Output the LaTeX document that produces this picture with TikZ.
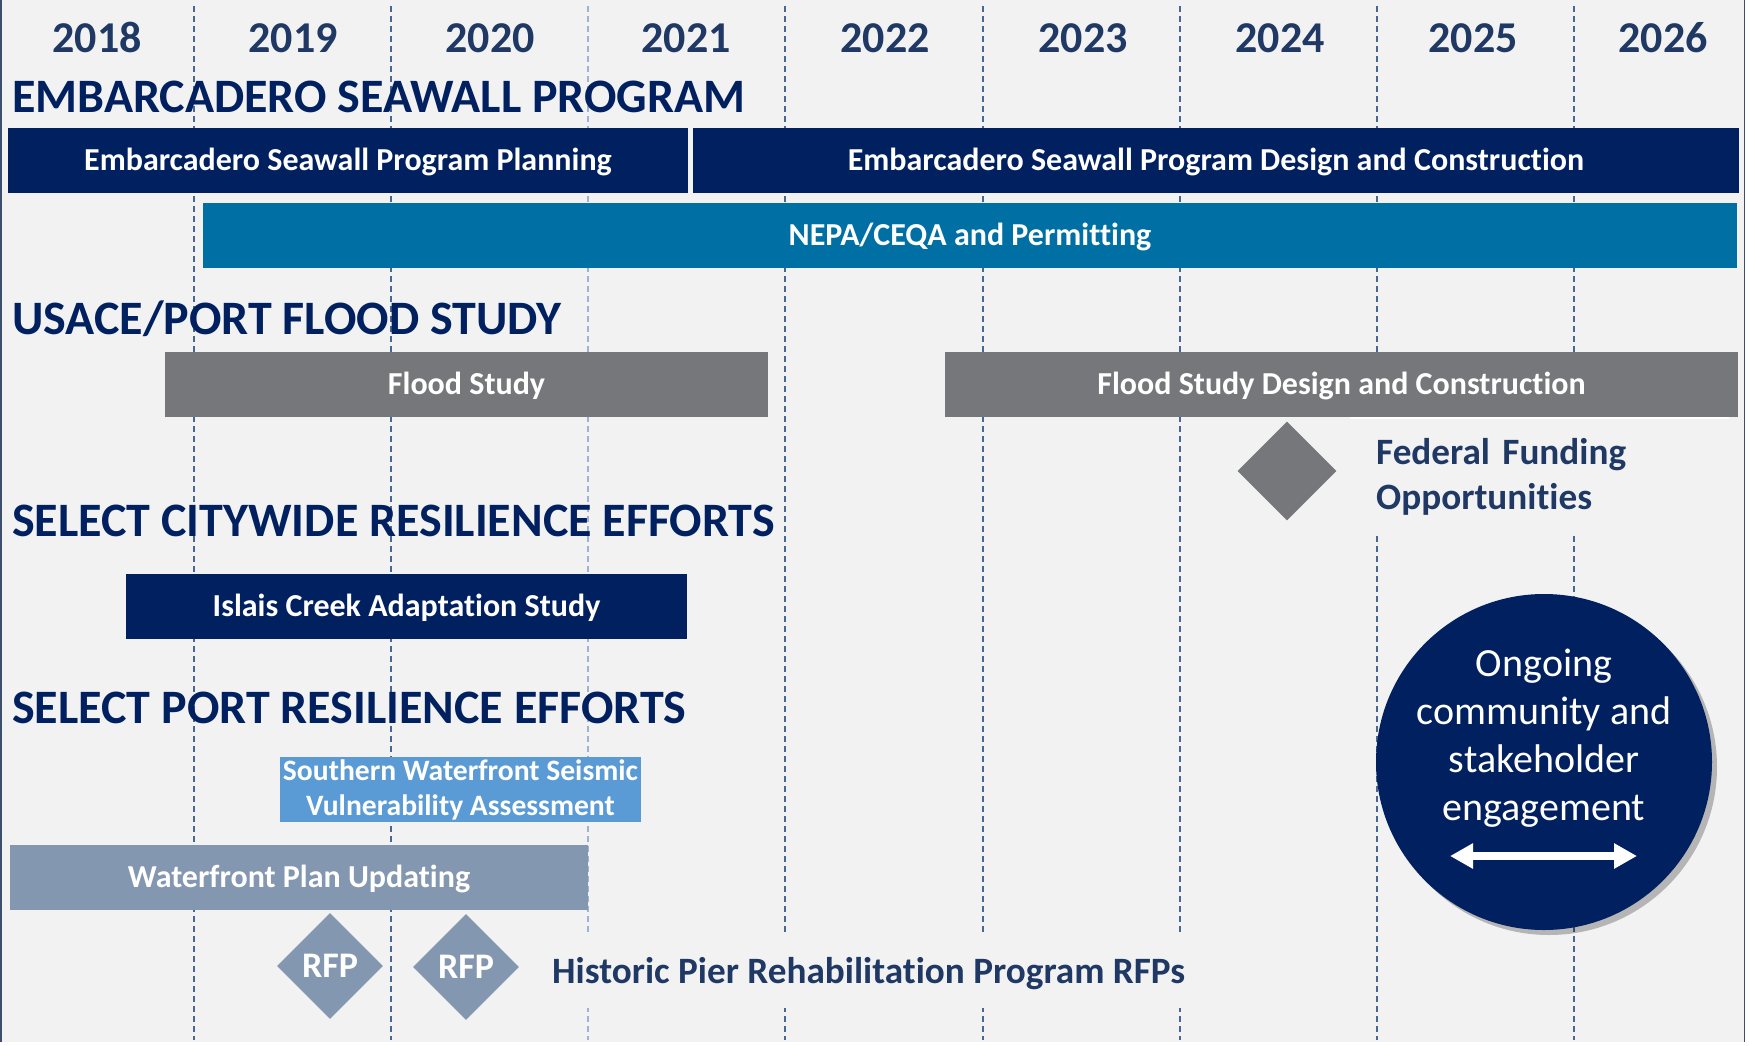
\documentclass[tikz,border=0pt]{standalone}
\usepackage{fontspec}
\setmainfont{Carlito}[Ligatures=NoCommon]
\usetikzlibrary{arrows.meta,shadows,shapes.geometric}
\definecolor{bg}{RGB}{242,242,242}
\definecolor{navy}{RGB}{0,32,96}
\definecolor{yearc}{RGB}{31,56,100}
\definecolor{nepa}{RGB}{0,112,164}
\definecolor{fgray}{RGB}{118,119,123}
\definecolor{sblue}{RGB}{91,155,213}
\definecolor{wgray}{RGB}{132,151,176}
\definecolor{gridc}{RGB}{72,104,145}
\definecolor{gridl}{RGB}{160,178,210}
\definecolor{framec}{RGB}{60,80,110}
\newcommand{\fyr}{\fontsize{44}{52}\selectfont\bfseries}
\newcommand{\fttl}{\fontsize{48}{56}\selectfont\bfseries}
\newcommand{\fbar}{\fontsize{32}{38}\selectfont\bfseries}
\newcommand{\fsml}{\fontsize{29.6}{35}\selectfont\bfseries}
\newcommand{\flbl}{\fontsize{37.2}{45}\selectfont\bfseries}
\newcommand{\frfp}{\fontsize{36}{40}\selectfont\bfseries}
\newcommand{\fcirc}{\fontsize{40}{48}\selectfont}
\begin{document}
\begin{tikzpicture}[x=1pt,y=-1pt,
  yearlbl/.style={anchor=base, inner sep=0pt, text=yearc, font=\fyr},
  sectitle/.style={anchor=base west, inner sep=0pt, text=navy, font=\fttl},
  barbase/.style={rectangle, inner sep=0pt, minimum height=65pt, text=white},
  bar/.style={barbase, font=\fbar, text height=26pt, text depth=6pt},
  gridline/.style={gridc, line width=1.3pt, dash pattern=on 6pt off 4pt},
  milestone/.style={diamond, aspect=1, inner sep=0pt, text=white, font=\frfp, text height=23pt, text depth=0pt},
  lbl/.style={inner ysep=0pt, text=yearc, font=\flbl, fill=bg}
]
\useasboundingbox (0,0) rectangle (1749,1045);
\fill[white] (0,0) rectangle (1749,1045);
\fill[bg] (0,0) rectangle (1745,1042);
\draw[framec, line width=1.5pt] (1,0) -- (1,1042);
\draw[framec, line width=1.2pt] (1744.5,0) -- (1744.5,1042);

% grid lines
\foreach \gx in {194,391,785,983,1180,1377,1574}{
  \draw[gridline] (\gx,6) -- (\gx,1040);
}
\draw[gridline, gridl] (588,6) -- (588,1040);

% years
\node[yearlbl] (y18) at (97,52) {2018};
\node[yearlbl] (y19) at (293,52) {2019};
\node[yearlbl] (y20) at (490,52) {2020};
\node[yearlbl] (y21) at (686,52) {2021};
\node[yearlbl] (y22) at (885,52) {2022};
\node[yearlbl] (y23) at (1083,52) {2023};
\node[yearlbl] (y24) at (1280,52) {2024};
\node[yearlbl] (y25) at (1473,52) {2025};
\node[yearlbl] (y26) at (1663,52) {2026};

% section titles
\node[sectitle] (t1) at (12,112) {EMBARCADERO SEAWALL PROGRAM};
\node[sectitle] (t2) at (12,334) {USACE/PORT FLOOD STUDY};
\node[sectitle] (t3) at (12,536) {SELECT CITYWIDE RESILIENCE EFFORTS};
\node[sectitle] (t4) at (12,723) {SELECT PORT RESILIENCE EFFORTS};

% bars
\node[bar, fill=navy, minimum width=680pt] (plan) at (348,160.5) {Embarcadero Seawall Program Planning};
\node[bar, fill=navy, minimum width=1046pt] (design) at (1216,160.5) {Embarcadero Seawall Program Design and Construction};
\node[bar, fill=nepa, minimum width=1534pt] (nepa) at (970,235.5) {NEPA/CEQA and Permitting};
\node[bar, fill=fgray, minimum width=603pt] (flood) at (466.5,384.5) {Flood Study};
\node[bar, fill=fgray, minimum width=793pt] (flooddc) at (1341.5,384.5) {Flood Study Design and Construction};
\node[bar, fill=navy, minimum width=561pt] (islais) at (406.5,606.5) {Islais Creek Adaptation Study};
\node[barbase, fill=sblue, minimum width=361pt, align=center, font=\fsml] (south) at (460.5,789.5) {Southern Waterfront Seismic\\Vulnerability Assessment};
\node[bar, fill=wgray, minimum width=578pt] (wplan) at (299,877.5) {Waterfront Plan Updating};

% federal funding
\node[milestone, fill=fgray, minimum width=99pt, minimum height=99pt] (fedm) at (1287,471) {};
\node[lbl, anchor=north west, inner xsep=26pt, text width=327pt, align=left, minimum height=117pt] (fed) at (1350,418) {Federal Funding\\Opportunities};
\draw[white, line width=1.5pt] (fed.north west) -- (fed.north east);

% RFP milestones
\node[milestone, fill=wgray, minimum width=106pt, minimum height=106pt] (rfp1) at (330,966) {RFP};
\node[milestone, fill=wgray, minimum width=106pt, minimum height=106pt] (rfp2) at (466,967) {RFP};
\node[lbl, anchor=west, inner xsep=12pt, minimum height=73pt, text height=30pt, text depth=7pt] (hist) at (540,971.5) {Historic Pier Rehabilitation Program RFPs};

% engagement circle
\node[circle, fill=navy, minimum size=336pt, inner sep=0pt,
  drop shadow={shadow xshift=5pt, shadow yshift=-5pt, opacity=0.25, fill=black}] (eng) at (1544,762) {};
\node[align=center, text=white, font=\fcirc, inner sep=0pt] (engtxt) at (1544,738) {Ongoing\\community and\\stakeholder\\engagement};
\coordinate (arrL) at (1450,856);
\coordinate (arrR) at (1637,856);
\draw[white, line width=8pt, {Triangle[length=23pt,width=24pt]}-{Triangle[length=23pt,width=24pt]}] (arrL) -- (arrR);
\end{tikzpicture}
\end{document}
